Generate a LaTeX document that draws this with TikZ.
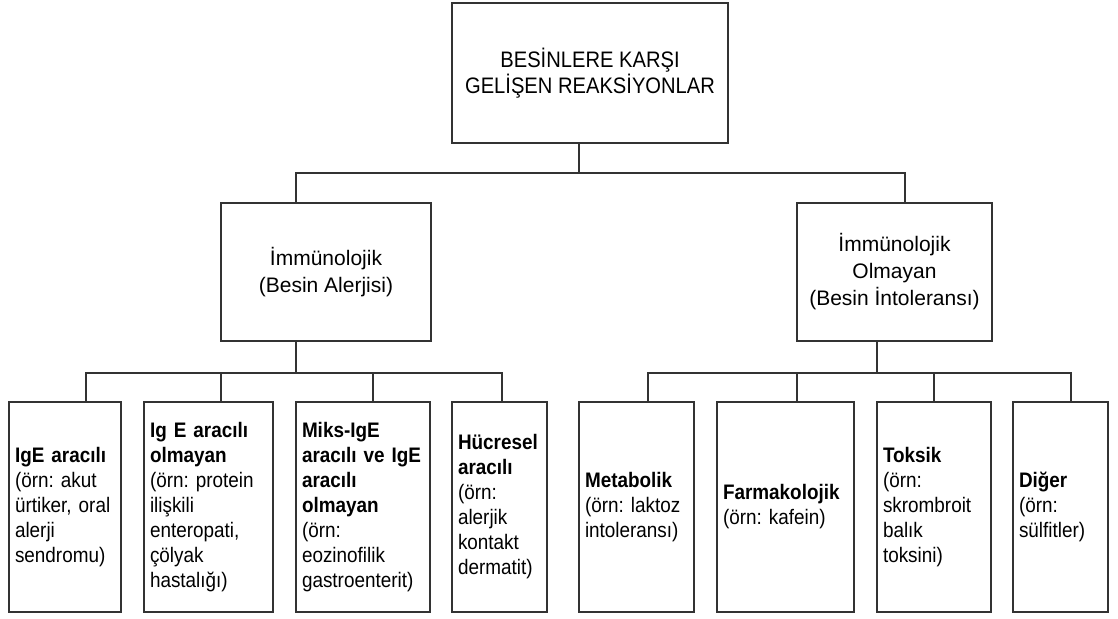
\documentclass[tikz,border=0pt]{standalone}
\usepackage{fontspec}
\setmainfont[FakeStretch=0.9]{Liberation Sans}
\newfontfamily\plainfont{Liberation Sans}
\usepackage{tikz}
\frenchspacing

\tikzset{
  box/.style={draw=black!80, line width=0.75pt, rectangle, inner sep=0pt, align=center},
  leaf/.style={draw=black!80, line width=0.75pt, rectangle, align=left, text width=#1,
    inner xsep=3pt, inner ysep=0pt, minimum height=105pt,
    font=\fontsize{10.5}{12.5}\selectfont},
  link/.style={draw=black!80, line width=0.75pt}
}

\begin{document}
\begin{tikzpicture}[x=0.5pt, y=-0.5pt]
\useasboundingbox (0,0) rectangle (1118,619);

% top
\node [box, minimum width=138pt, minimum height=70pt, font=\fontsize{11.2}{13}\selectfont] (top) at (590,73) {BESİNLERE KARŞI\\GELİŞEN REAKSİYONLAR};

% second level
\node [box, minimum width=105pt, minimum height=69pt, font=\plainfont\fontsize{10.5}{13.5}\selectfont] (alerji) at (326,272) {İmmünolojik\\(Besin Alerjisi)};
\node [box, minimum width=97.5pt, minimum height=69pt, font=\plainfont\fontsize{10.5}{13.5}\selectfont] (intol) at (894.5,272) {İmmünolojik\\Olmayan\\(Besin İntoleransı)};

% leaves
\node [leaf=50pt] (ige) at (65,507) {\textbf{IgE aracılı}\\(örn: akut\\ürtiker, oral\\alerji\\sendromu)};
\node [leaf=58.5pt] (nonige) at (208.5,507) {\textbf{Ig E aracılı}\\\textbf{olmayan}\\(örn: protein\\ilişkili\\enteropati,\\çölyak\\hastalığı)};
\node [leaf=61pt] (miks) at (363,507) {\textbf{Miks-IgE}\\\textbf{aracılı ve IgE}\\\textbf{aracılı}\\\textbf{olmayan}\\(örn:\\eozinofilik\\gastroenterit)};
\node [leaf=41.5pt] (hucre) at (499.5,507) {\textbf{Hücresel}\\\textbf{aracılı}\\(örn:\\alerjik\\kontakt\\dermatit)};
\node [leaf=51.5pt] (metab) at (636.5,507) {\textbf{Metabolik}\\(örn: laktoz\\intoleransı)};
\node [leaf=62.5pt] (farma) at (785.5,507) {\textbf{Farmakolojik}\\(örn: kafein)};
\node [leaf=51pt] (toksik) at (934,507) {\textbf{Toksik}\\(örn:\\skrombroit\\balık\\toksini)};
\node [leaf=41.5pt] (diger) at (1060.5,507) {\textbf{Diğer}\\(örn:\\sülfitler)};

% upper bus
\coordinate (t0) at (579,173);
\coordinate (ja) at (296,173);
\coordinate (jb) at (905,173);
\draw [link] (top.south -| t0) -- (t0);
\draw [link] (alerji.north -| ja) -- (ja) -- (jb) -- (intol.north -| jb);

% left bus
\coordinate (la) at (296,373);
\coordinate (l1) at (86,373);
\coordinate (l2) at (221,373);
\coordinate (l3) at (373,373);
\coordinate (l4) at (502,373);
\draw [link] (alerji.south -| la) -- (la);
\draw [link] (ige.north -| l1) -- (l1) -- (l4) -- (hucre.north -| l4);
\draw [link] (l2) -- (nonige.north -| l2);
\draw [link] (l3) -- (miks.north -| l3);

% right bus
\coordinate (ra) at (877,373);
\coordinate (r1) at (648,373);
\coordinate (r2) at (797,373);
\coordinate (r3) at (934,373);
\coordinate (r4) at (1071,373);
\draw [link] (intol.south -| ra) -- (ra);
\draw [link] (metab.north -| r1) -- (r1) -- (r4) -- (diger.north -| r4);
\draw [link] (r2) -- (farma.north -| r2);
\draw [link] (r3) -- (toksik.north -| r3);
\end{tikzpicture}
\end{document}
